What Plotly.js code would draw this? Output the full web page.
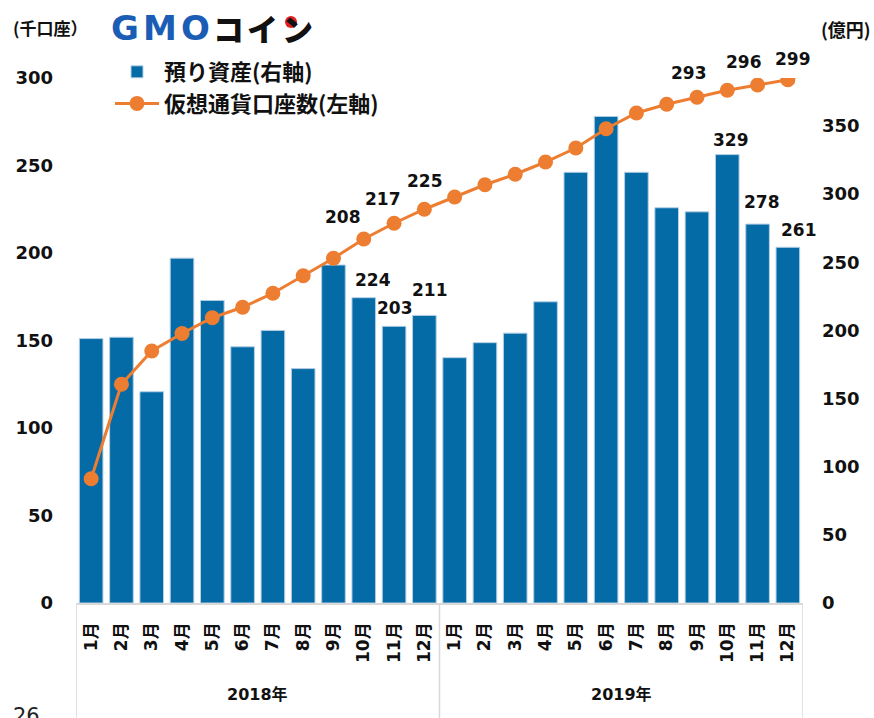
<!DOCTYPE html>
<html>
<head>
<meta charset="utf-8">
<script src="https://cdn.plot.ly/plotly-3.0.1.min.js"></script>
<style>html,body{margin:0;padding:0;background:#fff;}#chart{width:874px;height:718px;}</style>
</head>
<body>
<div id="chart"></div>
<script>
// ---- data ----
const years = ['2018年', '2019年'];
const months = ['1月','2月','3月','4月','5月','6月','7月','8月','9月','10月','11月','12月'];
// 預り資産 (億円, right axis)
const assets = [194, 195, 155, 253, 222, 188, 200, 172, 248, 224, 203, 211,
                180, 191, 198, 221, 316, 357, 316, 290, 287, 329, 278, 261];
// 仮想通貨口座数 (千口座, left axis)
const accounts = [71, 125, 144, 154, 163, 169, 177, 187, 197, 208, 217, 225,
                  232, 239, 245, 252, 260, 271, 280, 285, 289, 293, 296, 299];
const labeledIdx = [9, 10, 11, 21, 22, 23];
const barName = '預り資産(右軸)';
const lineName = '仮想通貨口座数(左軸)';
const leftTicks = [0, 50, 100, 150, 200, 250, 300];
const rightTicks = [0, 50, 100, 150, 200, 250, 300, 350];

// ---- derived ----
const monthLabels = [];
years.forEach(() => months.forEach(m => monthLabels.push(m)));
const xIdx = monthLabels.map((_, i) => i);

const FONT = 'DejaVu Sans, Noto Sans CJK JP, sans-serif';
const CJK = 'Noto Sans CJK JP, DejaVu Sans, sans-serif';
const BLUE = '#046ba6';
const ORANGE = '#ed7d31';

// pixel helpers for the plot frame (l=76, t=78, w=727, h=525)
const px = x => (x - 76) / 727;
const py = y => (603 - y) / 525;

const barTrace = {
  type: 'bar', name: barName, x: xIdx, y: assets, yaxis: 'y',
  marker: {color: BLUE, line: {color: '#b5cfe4', width: 1}},
  hoverinfo: 'skip'
};
const lineTrace = {
  type: 'scatter', mode: 'lines+markers', name: lineName, x: xIdx, y: accounts, yaxis: 'y2',
  line: {color: ORANGE, width: 3},
  marker: {color: ORANGE, size: 15},
  hoverinfo: 'skip'
};

// label offsets (pixels) for the data labels
const lineLabelShift = [[-21, 22], [-11, 24], [1, 28], [-38, 17], [-14, 23], [5, 21]];
const barLabelShift = [[9, 18], [1, 18], [6, 25], [4, 15], [4, 22], [11, 17]];

const annotations = [];
labeledIdx.forEach((i, k) => {
  annotations.push({
    x: i, y: accounts[i], xref: 'x', yref: 'y2', text: String(accounts[i]),
    xanchor: 'center', yanchor: 'middle',
    showarrow: false, xshift: lineLabelShift[k][0], yshift: lineLabelShift[k][1],
    font: {family: FONT, size: 17, color: '#111', weight: 700}
  });
  annotations.push({
    x: i, y: assets[i], xref: 'x', yref: 'y', text: String(assets[i]),
    xanchor: 'center', yanchor: 'middle',
    showarrow: false, xshift: barLabelShift[k][0], yshift: barLabelShift[k][1],
    font: {family: FONT, size: 17, color: '#111', weight: 700}
  });
});
// year group labels
years.forEach((yr, g) => {
  annotations.push({
    x: g * 12 + 5.5, y: py(694), xref: 'x', yref: 'paper', text: yr, showarrow: false,
    xanchor: 'center', yanchor: 'middle',
    font: {family: FONT, size: 16, color: '#111', weight: 700}
  });
});
// axis unit labels
annotations.push({x: px(11), y: py(28), xref: 'paper', yref: 'paper', xanchor: 'left', yanchor: 'middle',
  text: '(千口座）', showarrow: false, font: {family: CJK, size: 17, color: '#111', weight: 700}});
annotations.push({x: px(873), y: py(29), xref: 'paper', yref: 'paper', xanchor: 'right', yanchor: 'middle',
  text: '(億円)', showarrow: false, font: {family: CJK, size: 18, color: '#111', weight: 700}});
// logo
[['G', 125], ['M', 160], ['O', 195]].forEach(([ch, cx]) => annotations.push({
  x: px(cx), y: py(28), xref: 'paper', yref: 'paper', text: ch, showarrow: false,
  xanchor: 'center', yanchor: 'middle',
  font: {family: FONT, size: 34, color: '#1b5cb4', weight: 700}
}));
[['コ', 228], ['イ', 262], ['ン', 297]].forEach(([ch, cx]) => annotations.push({
  x: px(cx), y: py(28), xref: 'paper', yref: 'paper', text: ch, showarrow: false,
  xanchor: 'center', yanchor: 'middle',
  font: {family: CJK, size: 31, color: '#111', weight: 900}
}));
// page number fragment
annotations.push({x: px(11), y: py(702), xref: 'paper', yref: 'paper', xanchor: 'left', yanchor: 'top', text: '26',
  showarrow: false, font: {family: FONT, size: 21, color: '#222'}});

const shapes = [];
[-0.5, 11.5, 23.5].forEach(xv => shapes.push({
  type: 'line', xref: 'x', yref: 'paper', x0: xv, x1: xv, y0: 0, y1: py(718),
  line: {color: '#d9d9d9', width: 1.5}
}));
// red dot of the logo
shapes.push({type: 'circle', xref: 'paper', yref: 'paper',
  x0: px(285), x1: px(297), y0: py(28), y1: py(16), fillcolor: '#e0201e', line: {width: 0}});

const tickFont = {family: FONT, size: 18, color: '#111', weight: 700};

const layout = {
  width: 874, height: 718,
  margin: {l: 76, r: 71, t: 78, b: 115},
  paper_bgcolor: '#fff', plot_bgcolor: '#fff',
  showlegend: true,
  legend: {x: px(110), y: py(51), xanchor: 'left', yanchor: 'top', bgcolor: 'rgba(0,0,0,0)',
    itemwidth: 44,
    font: {family: CJK, size: 22, color: '#111', weight: 700}, traceorder: 'normal'},
  bargap: 0.22,
  xaxis: {
    range: [-0.5, 23.5], tickmode: 'array', tickvals: xIdx, ticktext: monthLabels,
    tickangle: -90, ticks: '', ticklabelstandoff: 11,
    tickfont: {family: FONT, size: 17, color: '#111', weight: 700},
    showline: true, linecolor: '#d9d9d9', linewidth: 1.5, showgrid: false, zeroline: false, fixedrange: true
  },
  yaxis: {
    side: 'right', range: [0, 385.2], tickmode: 'array', tickvals: rightTicks,
    showgrid: false, zeroline: false, showline: false, ticks: '', ticklabelstandoff: 18,
    tickfont: tickFont, fixedrange: true
  },
  yaxis2: {
    side: 'left', overlaying: 'y', range: [0, 300], tickmode: 'array', tickvals: leftTicks,
    showgrid: false, zeroline: false, showline: false, ticks: '', ticklabelstandoff: 22,
    tickfont: tickFont, fixedrange: true
  },
  annotations: annotations,
  shapes: shapes
};

Plotly.newPlot('chart', [barTrace, lineTrace], layout, {displayModeBar: false, staticPlot: true});
</script>
</body>
</html>
